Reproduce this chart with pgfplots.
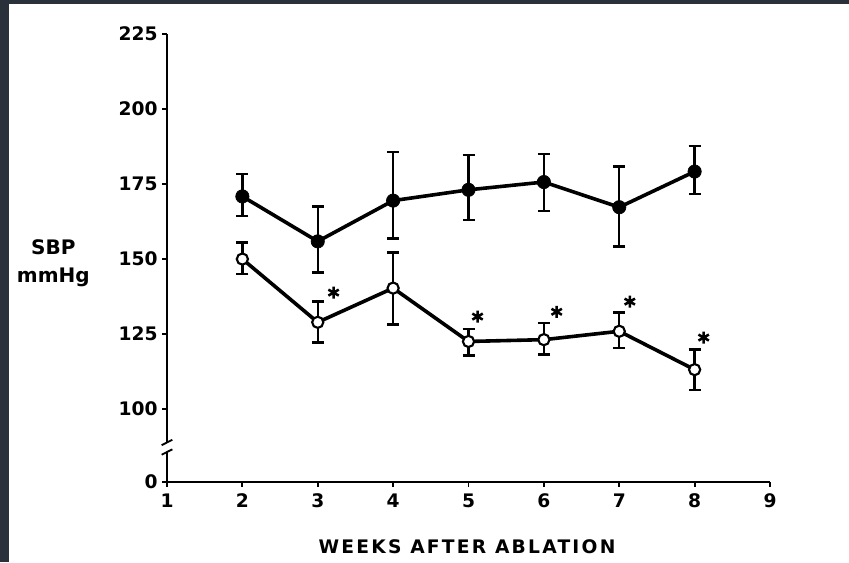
\documentclass[border=0pt]{standalone}
\usepackage{pgfplots}
\pgfplotsset{compat=1.18}
\usepackage{pgfplotstable}
\usepackage{fontspec}
\newfontfamily\dvb{DejaVu Sans Bold}
\newfontfamily\dvbs[LetterSpace=12]{DejaVu Sans Bold}
\definecolor{bgdark}{RGB}{42,49,58}
\newcommand{\tickf}{\dvb\fontsize{14}{16}\selectfont}
\newcommand{\labf}{\dvb\fontsize{15}{21.5}\selectfont}
\newcommand{\xlabf}{\dvbs\fontsize{14}{16}\selectfont}

\pgfplotstableread{
x y ep em
2 170.8 7.4 6.5
3 155.8 11.6 10.4
4 169.4 16.3 12.6
5 173.0 11.7 10.0
6 175.6 9.4 9.6
7 167.2 13.6 13.1
8 179.1 8.6 7.4
}\filled
\pgfplotstableread{
x y ep em
2 149.9 5.5 4.9
3 128.8 7.0 6.7
4 140.2 11.9 12.2
5 122.4 4.2 4.7
6 123.0 5.6 5.0
7 125.8 6.3 5.6
8 113.0 6.7 6.7
}\open
\pgfplotstableread{
x y
3.21 138.7
5.12 130.7
6.17 132.3
7.14 135.7
8.12 123.7
}\stars

\begin{document}
\begin{tikzpicture}
\fill[bgdark] (0pt,0pt) rectangle (636.75pt,421.5pt);
\fill[white] (6.75pt,0pt) rectangle (636.75pt,418.5pt);
\begin{axis}[
  at={(125.25pt,60pt)}, anchor=south west,
  scale only axis, width=452.25pt, height=336pt,
  xmin=1, xmax=9, ymin=75.5, ymax=225,
  axis lines=left, separate axis lines,
  x axis line style={-, line width=1.7pt, black},
  y axis line style={draw=none},
  xtick={1,...,9},
  ytick={75.5,100,125,150,175,200,225},
  yticklabels={0,100,125,150,175,200,225},
  tick align=outside, major tick length=3.5pt,
  tick style={line width=1.4pt, black},
  ticklabel style={font=\tickf},
  xticklabel style={yshift=-2pt},
  /pgf/number format/assume math mode=true,
  clip=false,
]
% y axis with break
\draw[line width=1.7pt] (axis cs:1,75.5) -- (axis cs:1,85.6);
\draw[line width=1.7pt] (axis cs:1,88.6) -- (axis cs:1,225);
\draw[line width=1.4pt] ([xshift=-4pt]axis cs:1,84.6) -- ([xshift=4pt]axis cs:1,86.4);
\draw[line width=1.4pt] ([xshift=-4pt]axis cs:1,87.8) -- ([xshift=4pt]axis cs:1,89.6);

\addplot[black, line width=2.7pt, mark=*, mark size=5pt,
  mark options={solid, fill=black, line width=0.5pt},
  error bars/.cd, y dir=both, y explicit,
  error bar style={line width=1.8pt},
  error mark=|,
  error mark options={mark size=4.5pt, line width=1.8pt}]
  table[x=x, y=y, y error plus=ep, y error minus=em] {\filled};

\addplot[black, line width=2.7pt, mark=*, mark size=4.2pt,
  mark options={solid, fill=white, draw=black, line width=1.6pt},
  error bars/.cd, y dir=both, y explicit,
  error bar style={line width=1.8pt},
  error mark=|,
  error mark options={mark size=4.5pt, line width=1.8pt}]
  table[x=x, y=y, y error plus=ep, y error minus=em] {\open};

\addplot[only marks, black, mark=asterisk, mark size=4.5pt,
  mark options={line width=1.9pt}] table[x=x, y=y] {\stars};
\end{axis}
\node[font=\labf, align=center] at (40pt,224pt) {SBP\\mmHg};
\node[font=\xlabf] at (350.25pt,11.25pt) {WEEKS AFTER ABLATION};
\end{tikzpicture}
\end{document}
